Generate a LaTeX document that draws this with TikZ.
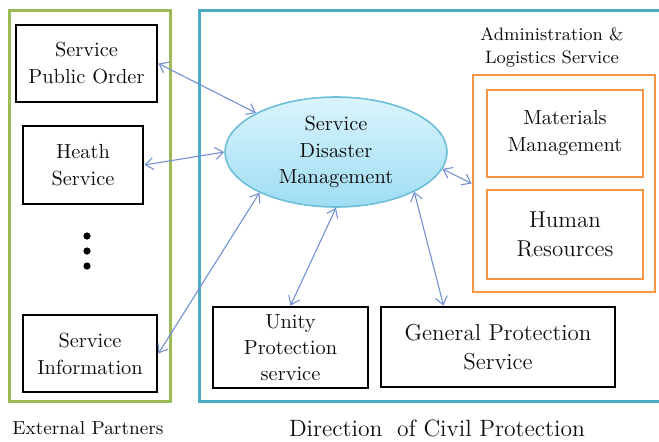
\documentclass[tikz,border=0pt]{standalone}
\usetikzlibrary{arrows.meta,shapes.geometric,calc}
\definecolor{grn}{RGB}{155,187,89}
\definecolor{blu}{RGB}{75,172,198}
\definecolor{org}{RGB}{247,150,70}
\definecolor{arr}{RGB}{115,145,210}
\definecolor{txt}{RGB}{15,15,15}
\definecolor{elltop}{RGB}{218,244,252}
\definecolor{ellbot}{RGB}{158,221,243}
\definecolor{ellbd}{RGB}{110,190,215}
\tikzset{
  box/.style={draw=black, line width=1.4pt, align=center, inner sep=0pt, text=txt,
    font=\fontsize{10.2}{13.5}\selectfont},
  bigbox/.style={box, font=\fontsize{11.5}{14.2}\selectfont},
  obox/.style={draw=org, line width=1.4pt, align=center, inner sep=0pt, text=txt},
  frame/.style={line width=1.5pt, inner sep=0pt},
  link/.style={draw=arr, line width=0.55pt, {Straight Barb[length=4pt,width=6pt]}-{Straight Barb[length=4pt,width=6pt]}},
  lbl/.style={text=txt, align=center, inner sep=0pt},
  dot/.style={circle, fill=black, inner sep=0pt, minimum size=3.6pt}
}
\begin{document}
\begin{tikzpicture}[x=0.5pt,y=-0.5pt]
\useasboundingbox (0,0) rectangle (659,441);
% containers
\node[frame, draw=grn, minimum width=80.5pt, minimum height=195.5pt] (ext) at (89.5,205.5) {};
\node[frame, draw=blu, minimum width=233pt, minimum height=195.5pt] (dir) at (432,205.5) {};
% external partners
\node[box, minimum width=70.5pt, minimum height=38.5pt] (po) at (86.5,63.5) {Service\\Public Order};
\node[box, minimum width=60pt, minimum height=39pt] (hs) at (83,165) {Heath\\Service};
\node[dot] (d1) at (87,236) {};
\node[dot] (d2) at (87,251) {};
\node[dot] (d3) at (87,266) {};
\node[box, minimum width=67pt, minimum height=38.5pt] (si) at (90,353.5) {Service\\Information};
% central ellipse
\node[ellipse, draw=ellbd, line width=0.8pt, top color=elltop, bottom color=ellbot,
  minimum width=111pt, minimum height=55pt, inner sep=0pt, align=center, text=txt,
  font=\fontsize{10.2}{13.2}\selectfont] (dm) at (336,152) {Service\\Disaster\\Management};
% administration
\node[lbl, font=\fontsize{9}{11.5}\selectfont] (admlbl) at (552,47) {Administration \&\\Logistics Service};
\node[obox, minimum width=91pt, minimum height=108.5pt] (adm) at (564,183.5) {};
\node[obox, minimum width=78pt, minimum height=43.5pt, font=\fontsize{10.2}{13.5}\selectfont] (mm) at (565,133.5) {Materials\\Management};
\node[obox, minimum width=78pt, minimum height=44.5pt, font=\fontsize{11.5}{14.2}\selectfont] (hr) at (565,234.5) {Human\\Resources};
% bottom services
\node[box, minimum width=77.5pt, minimum height=40.5pt, font=\fontsize{10.2}{13}\selectfont] (up) at (290.5,347.5) {Unity\\Protection\\service};
\node[bigbox, minimum width=117pt, minimum height=40pt] (gp) at (498,347) {General Protection\\Service};
% labels
\node[lbl, font=\fontsize{9.4}{12}\selectfont] (extlbl) at (88,428) {External Partners};
\node[lbl, font=\fontsize{11.8}{15}\selectfont] (dirlbl) at (437,428) {Direction\hspace{0.3em} of Civil Protection};
% connectors
\draw[link] (po.east) -- (dm.154);
\draw[link] (hs.east) -- (dm.west);
\draw[link] (si.east) -- (dm.208);
\draw[link] (up.north) -- (dm.270);
\draw[link] ($(gp.north west)!0.27!(gp.north east)$) -- (dm.333);
\draw[link] (dm.351) -- (adm.west);
\end{tikzpicture}
\end{document}
